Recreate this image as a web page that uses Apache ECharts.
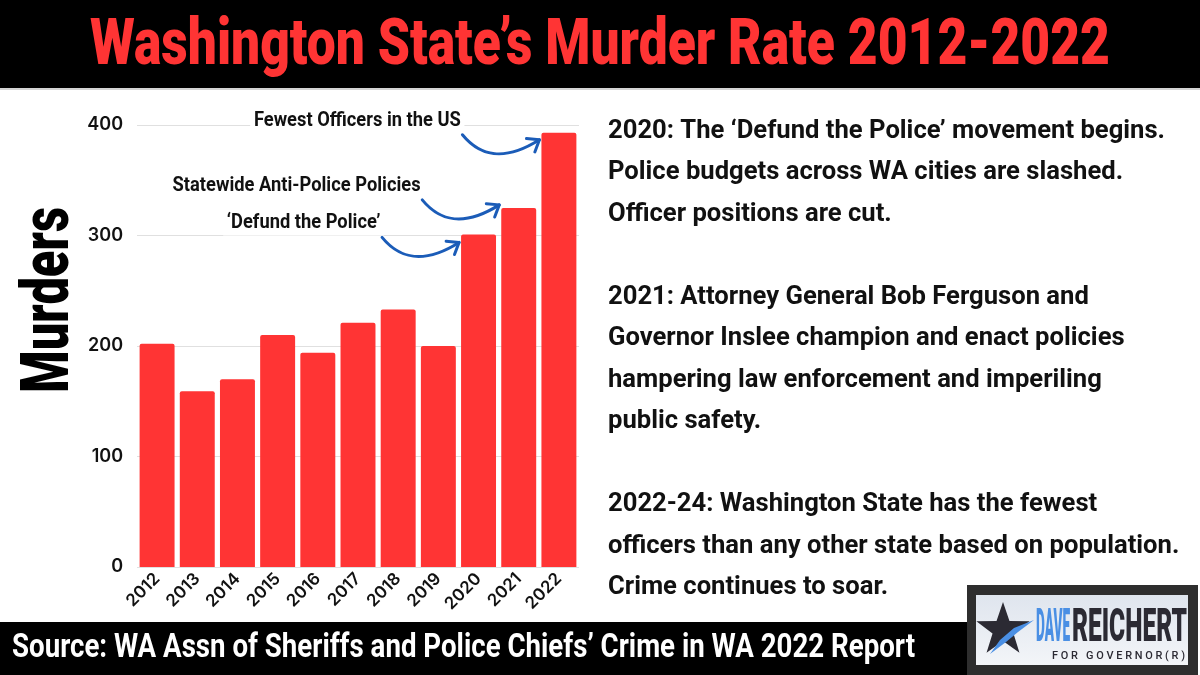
<!DOCTYPE html>
<html>
<head>
<meta charset="utf-8">
<style>
  html, body { margin: 0; padding: 0; background: #fff; }
  #chart { width: 1200px; height: 675px; }
</style>
<script src="https://cdn.jsdelivr.net/npm/echarts@6/dist/echarts.min.js"></script>
</head>
<body>
<div id="chart"></div>
<script>
// data
const years = ['2012', '2013', '2014', '2015', '2016', '2017', '2018', '2019', '2020', '2021', '2022'];
const murders = [202, 159, 170, 210, 194, 221, 233, 200, 301, 325, 393];
const yTicks = [0, 100, 200, 300, 400];

const noteYears = ['2020', '2021', '2022'];
const noteTexts = ['‘Defund the Police’', 'Statewide Anti-Police Policies', 'Fewest Officers in the US'];

const titleText = 'Washington State’s Murder Rate 2012-2022';
const axisTitle = 'Murders';
const sourceText = 'Source: WA Assn of Sheriffs and Police Chiefs’ Crime in WA 2022 Report';
const panelLines = [
  '2020: The ‘Defund the Police’ movement begins.',
  'Police budgets across WA cities are slashed.',
  'Officer positions are cut.',
  '',
  '2021: Attorney General Bob Ferguson and',
  'Governor Inslee champion and enact policies',
  'hampering law enforcement and imperiling',
  'public safety.',
  '',
  '2022-24: Washington State has the fewest',
  'officers than any other state based on population.',
  'Crime continues to soar.'
];

const RED = '#ff3434';
const BLUE = '#1b5cb8';
const FAM = 'Roboto';

// measure text so the wide font can be squeezed into a condensed look
const ctx = document.createElement('canvas').getContext('2d');
const fit = (text, font, width) => {
  ctx.font = font;
  return width / ctx.measureText(text).width;
};

const chart = echarts.init(document.getElementById('chart'));

chart.setOption({
  animation: false,
  backgroundColor: '#fff',
  grid: { left: 137, right: 621, top: 125, bottom: 108 },
  xAxis: {
    type: 'category',
    data: years,
    axisLine: { show: false },
    axisTick: { show: false },
    axisLabel: {
      interval: 0,
      rotate: 45,
      margin: 9,
      color: '#111',
      fontFamily: 'Inter',
      fontWeight: 600,
      fontSize: 17
    }
  },
  yAxis: {
    type: 'value',
    min: yTicks[0],
    max: yTicks[yTicks.length - 1],
    interval: yTicks[1] - yTicks[0],
    axisLine: { show: false },
    axisTick: { show: false },
    splitLine: { lineStyle: { color: '#e0e0e0', width: 1 } },
    axisLabel: {
      margin: 14,
      color: '#111',
      fontFamily: 'Inter',
      fontWeight: 600,
      fontSize: 18
    }
  },
  series: [{
    type: 'bar',
    data: murders,
    barCategoryGap: '13%',
    itemStyle: { color: RED, borderRadius: [2, 2, 0, 0] }
  }]
});

// positions of the bars, from the chart's own scales
const px = (i, v) => chart.convertToPixel({ seriesIndex: 0 }, [i, v]);
const band = px(1, 0)[0] - px(0, 0)[0];
const barW = band * 0.87;

const graphics = [];

// header and footer bands
graphics.push({ type: 'rect', shape: { x: 0, y: 0, width: 1200, height: 88 }, style: { fill: '#000' } });
graphics.push({ type: 'rect', shape: { x: 0, y: 88, width: 1200, height: 2 }, style: { fill: '#d4d4d4' } });
graphics.push({ type: 'rect', shape: { x: 0, y: 622, width: 970, height: 53 }, style: { fill: '#000' } });

const titleFont = `900 64px ${FAM}`;
graphics.push({
  type: 'text', x: 600, y: 48, scaleX: fit(titleText, titleFont, 1020), z: 20,
  style: { text: titleText, font: titleFont, fill: RED, align: 'center', verticalAlign: 'middle' }
});

const srcFont = `700 34px ${FAM}`;
graphics.push({
  type: 'text', x: 12, y: 648, scaleX: fit(sourceText, srcFont, 903), z: 20,
  style: { text: sourceText, font: srcFont, fill: '#fff', align: 'left', verticalAlign: 'middle' }
});

// axis title
const axFont = `900 66px ${FAM}`;
graphics.push({
  type: 'text', x: 51, y: 300, rotation: Math.PI / 2, scaleX: fit(axisTitle, axFont, 186), z: 20,
  style: { text: axisTitle, font: axFont, fill: '#000', align: 'center', verticalAlign: 'middle' }
});

// right-hand text panel
const bodyFont = `700 26px ${FAM}`;
const bodyScale = fit(panelLines[0], bodyFont, 557);
panelLines.forEach((line, k) => {
  if (!line) return;
  graphics.push({
    type: 'text', x: 608, y: 131 + k * 41.5, scaleX: bodyScale, z: 20,
    style: { text: line, font: bodyFont, fill: '#111', align: 'left', verticalAlign: 'middle' }
  });
});

// annotations with curved arrows pointing at the bars
const noteFont = `700 20px ${FAM}`;
const noteScale = fit(noteTexts[1], noteFont, 248);
const arrowEndDy = [8, -3, 7];
noteYears.forEach((yr, n) => {
  const i = years.indexOf(yr);
  const top = px(i, murders[i]);
  const ex = top[0] - barW / 2 - 2;
  const ey = top[1] + arrowEndDy[n];
  const sx = ex - 77, sy = ey - 5;
  const c1 = [sx + 18, sy + 22], c2 = [ex - 35, ey + 22];
  graphics.push({
    type: 'bezierCurve', z: 20,
    shape: { x1: sx, y1: sy, cpx1: c1[0], cpy1: c1[1], cpx2: c2[0], cpy2: c2[1], x2: ex, y2: ey },
    style: { stroke: BLUE, lineWidth: 3, fill: null, lineCap: 'round' }
  });
  const dx = ex - c2[0], dy = ey - c2[1];
  const len = Math.hypot(dx, dy);
  const ux = dx / len, uy = dy / len;
  const head = (a) => [ex - 13 * (ux * Math.cos(a) - uy * Math.sin(a)), ey - 13 * (ux * Math.sin(a) + uy * Math.cos(a))];
  graphics.push({
    type: 'polyline', z: 20,
    shape: { points: [head(0.65), [ex, ey], head(-0.65)] },
    style: { stroke: BLUE, lineWidth: 3, fill: null, lineCap: 'round', lineJoin: 'round' }
  });
  graphics.push({
    type: 'text', x: sx + 2, y: sy - 14, scaleX: noteScale, z: 21,
    style: {
      text: noteTexts[n], font: noteFont, fill: '#111', align: 'right', verticalAlign: 'middle',
      backgroundColor: '#fff', padding: [2, 4]
    }
  });
});

// campaign logo, bottom right
graphics.push({ type: 'rect', z: 20, shape: { x: 967, y: 585, width: 231, height: 90 }, style: { fill: '#2e2e2e' } });
graphics.push({
  type: 'rect', z: 20, shape: { x: 976, y: 595, width: 212, height: 70 },
  style: {
    fill: new echarts.graphic.LinearGradient(0, 0, 0, 1, [
      { offset: 0, color: '#dfe5ee' }, { offset: 1, color: '#f3f5f8' }
    ])
  }
});
const starPts = [];
for (let k = 0; k < 10; k++) {
  const r = k % 2 ? 11 : 28;
  const a = -Math.PI / 2 + k * Math.PI / 5;
  starPts.push([1003 + r * Math.cos(a), 630 + r * Math.sin(a)]);
}
graphics.push({ type: 'polygon', z: 21, shape: { points: starPts }, style: { fill: '#2b2a33' } });
graphics.push({
  type: 'polygon', z: 22,
  shape: { points: [[990, 654], [1000, 640], [1014, 628], [1034, 620], [1018, 632], [1006, 642]] },
  style: { fill: '#4a8fe4' }
});
const logoFont = `900 46px ${FAM}`;
graphics.push({
  type: 'text', x: 1036, y: 629, scaleX: fit('DAVE', logoFont, 34), z: 22,
  style: { text: 'DAVE', font: logoFont, fill: '#4a8fe4', align: 'left', verticalAlign: 'middle' }
});
graphics.push({
  type: 'text', x: 1072, y: 629, scaleX: fit('REICHERT', logoFont, 115), z: 22,
  style: { text: 'REICHERT', font: logoFont, fill: '#2b2a33', align: 'left', verticalAlign: 'middle' }
});
const subText = 'F O R   G O V E R N O R ( R )';
const subFont = `500 10px ${FAM}`;
graphics.push({
  type: 'text', x: 1052, y: 656, scaleX: fit(subText, subFont, 133), z: 22,
  style: { text: subText, font: subFont, fill: '#2b2a33', align: 'left', verticalAlign: 'middle' }
});

chart.setOption({ graphic: graphics });
</script>
</body>
</html>
